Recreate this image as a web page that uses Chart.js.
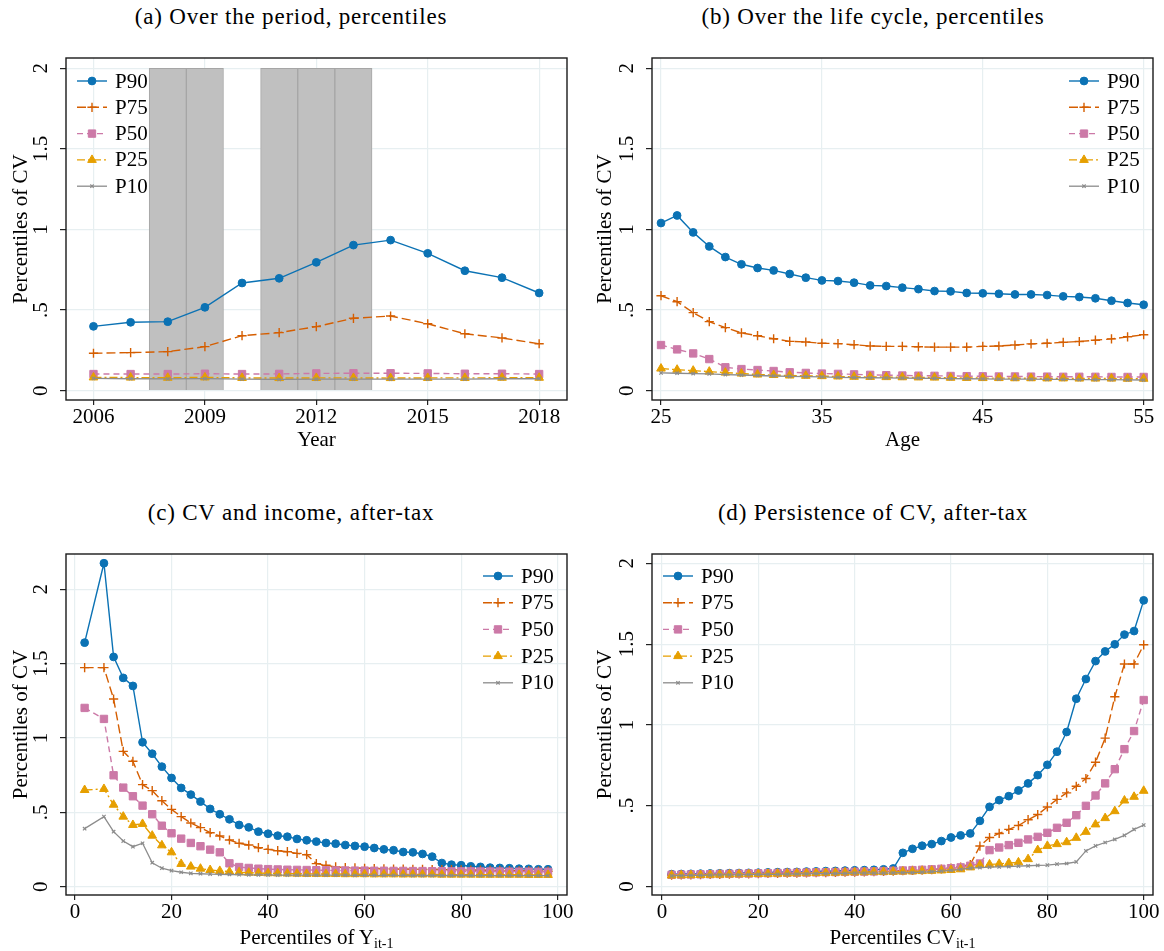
<!DOCTYPE html>
<html>
<head>
<meta charset="utf-8">
<script src="https://cdn.jsdelivr.net/npm/chart.js@4.4.1/dist/chart.umd.min.js"></script>
<style>
  body { margin: 0; background: #fff; }
  #page { position: relative; width: 1164px; height: 951px; overflow: hidden; font-family: "Liberation Serif", "DejaVu Serif", serif; color: #000; }
  .ttl { position: absolute; width: 582px; text-align: center; font-size: 23px; line-height: 24px; letter-spacing: 0.8px; }
  .xt { position: absolute; width: 501px; text-align: center; font-size: 21px; line-height: 24px; }
  .xt sub { font-size: 14px; vertical-align: -4px; line-height: 0; }
  canvas { position: absolute; }
</style>
</head>
<body>
<div id="page">
  <div class="ttl" style="left:0;top:5px">(a) Over the period, percentiles</div>
  <div class="ttl" style="left:582px;top:5px">(b) Over the life cycle, percentiles</div>
  <div class="ttl" style="left:0;top:501px">(c) CV and income, after-tax</div>
  <div class="ttl" style="left:582px;top:501px">(d) Persistence of CV, after-tax</div>

  <canvas id="chartA" width="582" height="420" style="left:0;top:40px"></canvas>
  <canvas id="chartB" width="582" height="420" style="left:582px;top:40px"></canvas>
  <canvas id="chartC" width="582" height="416" style="left:0;top:535px"></canvas>
  <canvas id="chartD" width="582" height="416" style="left:582px;top:535px"></canvas>

  <div class="xt" style="left:66px;top:925px">Percentiles of Y<sub>it-1</sub></div>
  <div class="xt" style="left:652px;top:925px">Percentiles CV<sub>it-1</sub></div>
</div>
<script>
// Названия рядов
const seriesNames = ['P90', 'P75', 'P50', 'P25', 'P10'];

// (a) по годам
const years = [2006, 2007, 2008, 2009, 2010, 2011, 2012, 2013, 2014, 2015, 2016, 2017, 2018];
const shadedYears = [2008, 2009, 2011, 2012, 2013];
const a_p90 = [0.399, 0.424, 0.428, 0.517, 0.668, 0.697, 0.796, 0.903, 0.934, 0.852, 0.744, 0.701, 0.606];
const a_p75 = [0.232, 0.236, 0.242, 0.273, 0.341, 0.360, 0.397, 0.449, 0.463, 0.415, 0.353, 0.327, 0.291];
const a_p50 = [0.103, 0.103, 0.103, 0.105, 0.103, 0.104, 0.107, 0.108, 0.108, 0.107, 0.105, 0.105, 0.103];
const a_p25 = [0.082, 0.081, 0.080, 0.082, 0.079, 0.078, 0.079, 0.079, 0.078, 0.079, 0.079, 0.080, 0.080];
const a_p10 = [0.076, 0.074, 0.073, 0.075, 0.072, 0.070, 0.072, 0.072, 0.071, 0.072, 0.072, 0.074, 0.074];

// (b) по возрасту
const ages = [25, 26, 27, 28, 29, 30, 31, 32, 33, 34, 35, 36, 37, 38, 39, 40, 41, 42, 43, 44, 45, 46, 47, 48, 49, 50, 51, 52, 53, 54, 55];
const b_p90 = [1.040, 1.087, 0.982, 0.895, 0.829, 0.784, 0.761, 0.746, 0.724, 0.701, 0.684, 0.680, 0.670, 0.653, 0.649, 0.639, 0.630, 0.618, 0.616, 0.606, 0.604, 0.601, 0.597, 0.597, 0.593, 0.585, 0.581, 0.573, 0.558, 0.544, 0.533];
const b_p75 = [0.589, 0.552, 0.484, 0.428, 0.391, 0.358, 0.341, 0.322, 0.306, 0.302, 0.294, 0.292, 0.285, 0.277, 0.275, 0.275, 0.272, 0.270, 0.270, 0.270, 0.275, 0.277, 0.283, 0.290, 0.294, 0.300, 0.305, 0.313, 0.321, 0.334, 0.347];
const b_p50 = [0.283, 0.256, 0.231, 0.196, 0.145, 0.134, 0.128, 0.122, 0.114, 0.110, 0.106, 0.104, 0.101, 0.098, 0.096, 0.094, 0.093, 0.092, 0.091, 0.090, 0.089, 0.088, 0.088, 0.087, 0.087, 0.086, 0.086, 0.086, 0.085, 0.085, 0.085];
const b_p25 = [0.137, 0.130, 0.124, 0.118, 0.112, 0.106, 0.100, 0.097, 0.094, 0.092, 0.090, 0.088, 0.086, 0.085, 0.084, 0.083, 0.082, 0.081, 0.080, 0.079, 0.078, 0.078, 0.077, 0.077, 0.076, 0.076, 0.075, 0.075, 0.075, 0.074, 0.074];
const b_p10 = [0.110, 0.108, 0.106, 0.104, 0.100, 0.097, 0.094, 0.091, 0.089, 0.087, 0.085, 0.083, 0.081, 0.080, 0.079, 0.078, 0.077, 0.076, 0.075, 0.074, 0.073, 0.072, 0.071, 0.071, 0.070, 0.070, 0.069, 0.068, 0.068, 0.067, 0.066];

// (c) по перцентилям дохода
const c_x = [2, 6, 8, 10, 12, 14, 16, 18, 20, 22, 24, 26, 28, 30, 32, 34, 36, 38, 40, 42, 44, 46, 48, 50, 52, 54, 56, 58, 60, 62, 64, 66, 68, 70, 72, 74, 76, 78, 80, 82, 84, 86, 88, 90, 92, 94, 96, 98];
const c_p90 = [1.641, 2.175, 1.545, 1.404, 1.350, 0.971, 0.894, 0.807, 0.731, 0.664, 0.619, 0.572, 0.523, 0.487, 0.453, 0.415, 0.399, 0.370, 0.356, 0.343, 0.336, 0.321, 0.312, 0.303, 0.294, 0.289, 0.280, 0.274, 0.269, 0.260, 0.251, 0.245, 0.233, 0.231, 0.220, 0.202, 0.159, 0.148, 0.144, 0.137, 0.133, 0.128, 0.126, 0.124, 0.121, 0.120, 0.117, 0.117];
const c_p75 = [1.473, 1.473, 1.262, 0.910, 0.843, 0.686, 0.646, 0.578, 0.520, 0.471, 0.428, 0.397, 0.363, 0.341, 0.314, 0.292, 0.280, 0.262, 0.251, 0.242, 0.235, 0.224, 0.215, 0.155, 0.144, 0.133, 0.128, 0.126, 0.124, 0.122, 0.120, 0.119, 0.118, 0.117, 0.116, 0.115, 0.115, 0.114, 0.113, 0.112, 0.111, 0.110, 0.109, 0.108, 0.107, 0.106, 0.105, 0.104];
const c_p50 = [1.202, 1.128, 0.749, 0.666, 0.608, 0.545, 0.487, 0.410, 0.359, 0.323, 0.294, 0.272, 0.249, 0.231, 0.157, 0.132, 0.126, 0.121, 0.118, 0.116, 0.114, 0.113, 0.112, 0.111, 0.110, 0.109, 0.109, 0.108, 0.108, 0.107, 0.107, 0.106, 0.106, 0.105, 0.105, 0.104, 0.104, 0.103, 0.103, 0.103, 0.102, 0.102, 0.102, 0.101, 0.101, 0.101, 0.100, 0.100];
const c_p25 = [0.650, 0.657, 0.551, 0.471, 0.415, 0.422, 0.343, 0.278, 0.231, 0.153, 0.135, 0.121, 0.112, 0.106, 0.101, 0.097, 0.094, 0.092, 0.090, 0.089, 0.088, 0.087, 0.086, 0.086, 0.085, 0.085, 0.084, 0.084, 0.084, 0.083, 0.083, 0.083, 0.082, 0.082, 0.082, 0.082, 0.081, 0.081, 0.081, 0.081, 0.080, 0.080, 0.080, 0.080, 0.080, 0.079, 0.079, 0.079];
const c_p10 = [0.390, 0.471, 0.370, 0.307, 0.269, 0.292, 0.161, 0.124, 0.108, 0.097, 0.090, 0.087, 0.085, 0.083, 0.082, 0.081, 0.080, 0.079, 0.079, 0.078, 0.078, 0.078, 0.077, 0.077, 0.077, 0.077, 0.077, 0.076, 0.076, 0.076, 0.076, 0.076, 0.076, 0.075, 0.075, 0.075, 0.075, 0.075, 0.075, 0.075, 0.074, 0.074, 0.074, 0.074, 0.074, 0.074, 0.074, 0.074];

// (d) по перцентилям CV прошлого года
const d_x = [2, 4, 6, 8, 10, 12, 14, 16, 18, 20, 22, 24, 26, 28, 30, 32, 34, 36, 38, 40, 42, 44, 46, 48, 50, 52, 54, 56, 58, 60, 62, 64, 66, 68, 70, 72, 74, 76, 78, 80, 82, 84, 86, 88, 90, 92, 94, 96, 98, 100];
const d_p90 = [0.076, 0.077, 0.078, 0.079, 0.080, 0.081, 0.082, 0.083, 0.084, 0.085, 0.087, 0.088, 0.089, 0.090, 0.092, 0.093, 0.095, 0.096, 0.098, 0.100, 0.101, 0.103, 0.106, 0.111, 0.208, 0.233, 0.252, 0.262, 0.281, 0.303, 0.316, 0.328, 0.406, 0.493, 0.534, 0.559, 0.594, 0.638, 0.689, 0.753, 0.834, 0.956, 1.162, 1.284, 1.395, 1.455, 1.499, 1.559, 1.581, 1.771];
const d_p75 = [0.070, 0.071, 0.072, 0.073, 0.074, 0.075, 0.076, 0.077, 0.078, 0.079, 0.080, 0.081, 0.082, 0.083, 0.084, 0.085, 0.086, 0.087, 0.088, 0.089, 0.090, 0.092, 0.093, 0.095, 0.097, 0.099, 0.101, 0.104, 0.108, 0.113, 0.120, 0.135, 0.250, 0.303, 0.328, 0.353, 0.377, 0.413, 0.445, 0.492, 0.539, 0.579, 0.620, 0.668, 0.769, 0.918, 1.174, 1.377, 1.377, 1.496];
const d_p50 = [0.072, 0.073, 0.074, 0.075, 0.076, 0.077, 0.078, 0.079, 0.080, 0.081, 0.082, 0.083, 0.084, 0.085, 0.086, 0.087, 0.088, 0.089, 0.090, 0.091, 0.092, 0.093, 0.095, 0.097, 0.099, 0.101, 0.103, 0.106, 0.109, 0.113, 0.118, 0.128, 0.142, 0.225, 0.241, 0.256, 0.270, 0.291, 0.307, 0.332, 0.363, 0.394, 0.441, 0.499, 0.563, 0.638, 0.726, 0.850, 0.962, 1.154];
const d_p25 = [0.068, 0.069, 0.070, 0.071, 0.072, 0.073, 0.074, 0.075, 0.076, 0.077, 0.078, 0.079, 0.080, 0.081, 0.082, 0.083, 0.084, 0.085, 0.086, 0.087, 0.088, 0.089, 0.090, 0.091, 0.092, 0.093, 0.095, 0.097, 0.099, 0.102, 0.106, 0.118, 0.132, 0.136, 0.140, 0.145, 0.149, 0.169, 0.225, 0.251, 0.262, 0.274, 0.301, 0.338, 0.384, 0.423, 0.466, 0.532, 0.555, 0.592];
const d_p10 = [0.066, 0.067, 0.068, 0.069, 0.070, 0.071, 0.071, 0.072, 0.073, 0.074, 0.075, 0.075, 0.076, 0.077, 0.078, 0.079, 0.079, 0.080, 0.081, 0.082, 0.082, 0.083, 0.083, 0.084, 0.085, 0.086, 0.088, 0.091, 0.095, 0.100, 0.106, 0.113, 0.117, 0.119, 0.121, 0.123, 0.126, 0.128, 0.130, 0.132, 0.138, 0.142, 0.152, 0.220, 0.251, 0.272, 0.291, 0.316, 0.353, 0.380];

// Деления осей
const yTicks = [0, 0.5, 1, 1.5, 2];
const yearTicks = [2006, 2009, 2012, 2015, 2018];
const ageTicks = [25, 35, 45, 55];
const pctTicks = [0, 20, 40, 60, 80, 100];

const FONT = 'Liberation Serif';

// Стили линий (как в Stata)
const styles = [
    { color: '#0b72b4', dash: [], width: 1.4, point: 'circle', radius: 3.9, pb: 1 },
    { color: '#d55e00', dash: [9, 4], width: 1.4, point: 'cross', radius: 4.6, pb: 1.4 },
    { color: '#cc79a7', dash: [6, 4], width: 1.4, point: 'rect', radius: 5.2, pb: 1 },
    { color: '#e69f00', dash: [8, 3, 2, 3], width: 1.4, point: 'triangle', radius: 5, pb: 1 },
    { color: '#8c8c8c', dash: [], width: 1.3, point: 'crossRot', radius: 2.4, pb: 1.2 }
];

function fmtY(v) {
    if (v === 0) return '0';
    return String(v).replace(/^0\./, '.');
}

// Рамка вокруг области графика
const frame = {
    id: 'frame',
    afterDraw(chart) {
        const { ctx, chartArea: a } = chart;
        ctx.save();
        ctx.strokeStyle = '#1a1a1a';
        ctx.lineWidth = 1.4;
        ctx.strokeRect(a.left, a.top, a.right - a.left, a.bottom - a.top);
        ctx.restore();
    }
};

// Легенда: отрезок линии с маркером и подпись
const seriesKey = {
    id: 'seriesKey',
    afterDatasetsDraw(chart, args, opts) {
        const ctx = chart.ctx;
        const items = chart.data.datasets.filter(d => d.label);
        ctx.save();
        items.forEach((ds, i) => {
            const y = opts.y + i * opts.rowH;
            const x0 = opts.x;
            ctx.strokeStyle = ds.borderColor;
            ctx.fillStyle = ds.borderColor;
            ctx.lineWidth = ds.borderWidth;
            ctx.setLineDash(ds.borderDash);
            ctx.beginPath();
            ctx.moveTo(x0, y);
            ctx.lineTo(x0 + 30, y);
            ctx.stroke();
            ctx.setLineDash([]);
            ctx.lineWidth = ds.pointBorderWidth;
            Chart.helpers.drawPoint(ctx, { pointStyle: ds.pointStyle, radius: ds.pointRadius, rotation: 0, borderWidth: ds.pointBorderWidth }, x0 + 15, y);
            ctx.fillStyle = '#000';
            ctx.font = '21px "' + FONT + '"';
            ctx.textBaseline = 'middle';
            ctx.textAlign = 'left';
            ctx.fillText(ds.label, x0 + 38, y + 1);
        });
        ctx.restore();
    }
};

function makeChart(id, o) {
    const datasets = o.series.map((vals, i) => {
        const s = styles[i];
        return {
            label: seriesNames[i],
            data: o.xs.map((x, j) => ({ x: x, y: vals[j] })),
            borderColor: s.color,
            backgroundColor: s.color,
            borderWidth: s.width,
            borderDash: s.dash,
            pointStyle: s.point,
            pointRadius: s.radius,
            pointHoverRadius: s.radius,
            pointBackgroundColor: s.color,
            pointBorderColor: s.color,
            pointBorderWidth: s.pb,
            tension: 0,
            // Stata рисует P10 последним, поверх остальных
            order: 5 - i
        };
    });

    if (o.shade) {
        datasets.push({
            type: 'bar',
            label: '',
            data: o.shade.map(x => ({ x: x, y: 2 })),
            backgroundColor: '#c0c0c0',
            borderColor: '#a6a6a6',
            borderWidth: 1,
            barPercentage: 1,
            categoryPercentage: 1,
            order: 10
        });
    }

    return new Chart(document.getElementById(id), {
        type: 'line',
        data: { datasets: datasets },
        options: {
            responsive: false,
            animation: false,
            events: [],
            layout: { padding: { top: o.area.top, right: o.canvasW - o.area.right, left: 0, bottom: 0 } },
            plugins: {
                legend: { display: false },
                tooltip: { enabled: false },
                seriesKey: o.key
            },
            scales: {
                x: {
                    type: 'linear',
                    min: o.xMin,
                    max: o.xMax,
                    offset: false,
                    afterBuildTicks: s => { s.ticks = o.xTicks.map(v => ({ value: v })); },
                    afterFit: s => { s.height = o.canvasH - o.area.bottom; },
                    grid: { color: '#e7eff1', lineWidth: 1.2, tickColor: '#222', tickLength: 5, offset: false },
                    border: { display: false },
                    ticks: {
                        color: '#000', padding: 0, maxRotation: 0,
                        font: { family: FONT, size: 21 },
                        callback: v => String(v)
                    },
                    title: {
                        display: !!o.xTitle, text: o.xTitle || '', color: '#000',
                        font: { family: FONT, size: 21 },
                        padding: { top: 0, bottom: 7 }
                    }
                },
                y: {
                    type: 'linear',
                    min: o.yMin,
                    max: o.yMax,
                    afterBuildTicks: s => { s.ticks = yTicks.map(v => ({ value: v })); },
                    afterFit: s => { s.width = o.area.left; },
                    grid: { color: '#e7eff1', lineWidth: 1.2, tickColor: '#222', tickLength: 6 },
                    border: { display: false },
                    ticks: {
                        color: '#000', padding: 5, minRotation: 90, maxRotation: 90, crossAlign: 'center',
                        font: { family: FONT, size: 21 },
                        callback: v => fmtY(v)
                    },
                    title: {
                        display: true, text: 'Percentiles of CV', color: '#000',
                        font: { family: FONT, size: 21 },
                        padding: { top: o.yTitlePad, bottom: 0 }
                    }
                }
            }
        },
        plugins: [seriesKey, frame]
    });
}

makeChart('chartA', {
    xs: years, series: [a_p90, a_p75, a_p50, a_p25, a_p10], shade: shadedYears,
    canvasW: 582, canvasH: 420, area: { left: 66, right: 567, top: 18, bottom: 360 },
    xMin: 2005.26, xMax: 2018.75, xTicks: yearTicks, xTitle: 'Year',
    yMin: -0.058, yMax: 2.064, yTitlePad: 9,
    key: { x: 77, y: 41, rowH: 26.3 }
});

makeChart('chartB', {
    xs: ages, series: [b_p90, b_p75, b_p50, b_p25, b_p10],
    canvasW: 582, canvasH: 420, area: { left: 70, right: 571, top: 18, bottom: 360 },
    xMin: 24.44, xMax: 55.58, xTicks: ageTicks, xTitle: 'Age',
    yMin: -0.058, yMax: 2.064, yTitlePad: 11,
    key: { x: 487, y: 41, rowH: 26.3 }
});

makeChart('chartC', {
    xs: c_x, series: [c_p90, c_p75, c_p50, c_p25, c_p10],
    canvasW: 582, canvasH: 416, area: { left: 66, right: 567, top: 19, bottom: 360 },
    xMin: -1.86, xMax: 101.93, xTicks: pctTicks, xTitle: '',
    yMin: -0.056, yMax: 2.237, yTitlePad: 9,
    key: { x: 483, y: 41, rowH: 26.7 }
});

makeChart('chartD', {
    xs: d_x, series: [d_p90, d_p75, d_p50, d_p25, d_p10],
    canvasW: 582, canvasH: 416, area: { left: 70, right: 571, top: 19, bottom: 360 },
    xMin: -2.07, xMax: 101.93, xTicks: pctTicks, xTitle: '',
    yMin: -0.053, yMax: 2.058, yTitlePad: 11,
    key: { x: 81, y: 41, rowH: 26.7 }
});
</script>
</body>
</html>
